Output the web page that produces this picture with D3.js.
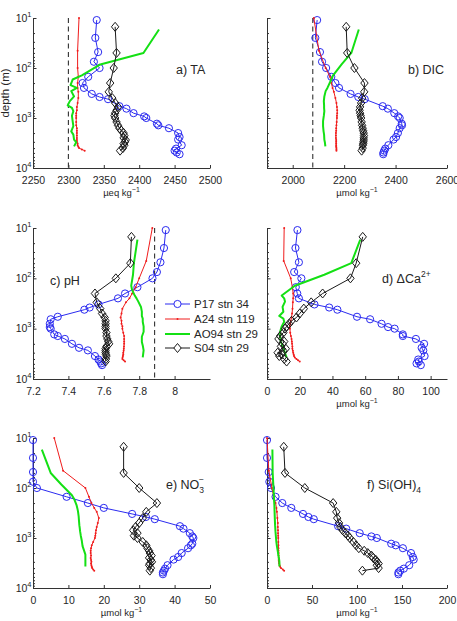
<!DOCTYPE html>
<html><head><meta charset="utf-8">
<script src="https://cdn.jsdelivr.net/npm/d3@7"></script>
<style>
body{margin:0;background:#fff}
svg{display:block}
text{font-family:"Liberation Sans",Arial,Helvetica,sans-serif;fill:#262626}
</style>
</head><body>
<svg id="c" width="457" height="621"></svg>
<script>
// ---------------- DATA ----------------
const depthP17 = [11,25,48,75,100,150,200,250,330,380,420,580,650,800,930,1000,1300,1400,1600,2000,2400,2700,3500,4100,4500,4900,5300];
const p17_TA  = [2340,2338,2342,2336,2344,2328,2320,2322,2333,2344,2356,2372,2382,2392,2407,2410,2425,2427,2442,2455,2457,2455,2460,2452,2450,2453,2457];
const p17_DIC = [2095,2088,2106,2114,2130,2150,2166,2180,2225,2255,2280,2350,2370,2395,2410,2416,2424,2425,2416,2409,2402,2392,2372,2360,2356,2353,2352];
const p17_pH  = [7.95,7.94,7.92,7.90,7.875,7.79,7.72,7.68,7.57,7.52,7.49,7.34,7.30,7.295,7.295,7.30,7.32,7.34,7.38,7.42,7.46,7.51,7.55,7.57,7.58,7.585,7.59];
const p17_dCa = [18.6,17.4,19.5,16.6,21,17.6,18.5,19.5,29,38,43,55,63,70,74,78,83,83,91,96,94.5,95.5,96.3,92.4,92.8,91.4,94];
const p17_NO3 = [0,0,0,0,1.1,9.5,15.5,20,28,31.9,34.4,41.5,42.5,44.3,45,45.3,45,44.6,43.8,42,41,39.7,38,37.3,37,36.7,36.7];
const p17_Si  = [0,0,1.9,2.6,4.5,9.5,17,27,40,46,52,79,88,103,116,122,138,143,151,160,162,163,158,152,148,146,146];

const depthA24 = [10,45,100,150,200,250,300,400,500,600,700,800,900,1000,1200,1400,1600,1800,2000,2250,2500,2750,3000,3250,3500,3750,4000,4250,4500];
const a24_TA  = [2315,2313,2313,2314,2313,2313,2314,2314,2313,2312,2312,2311,2311,2311,2311,2311,2312,2312,2312,2312,2312,2312,2312,2313,2313,2314,2315,2319,2323];
const a24_DIC = [2082,2102,2128,2145,2150,2155,2160,2166,2170,2172,2173,2173,2172,2172,2171,2170,2169,2169,2168,2168,2168,2169,2169,2169,2169,2169,2170,2170,2170];
const a24_pH  = [7.874,7.84,7.80,7.78,7.76,7.745,7.725,7.705,7.70,7.695,7.70,7.70,7.705,7.705,7.71,7.715,7.715,7.715,7.715,7.714,7.713,7.712,7.71,7.71,7.708,7.706,7.705,7.712,7.72];
const a24_dCa = [10.5,10.2,14.5,15.5,16,16,15.8,15.6,15.3,15,14.5,14.2,14,14,14.2,14.6,15,15.2,15.3,15.5,15.5,15.8,16,16.3,16.5,17,18,19,20];
const a24_NO3 = [6,8.5,14.8,15.8,16.5,17.3,18,18.6,18.3,18,17.8,17.7,17.6,17.5,17,16.6,16.4,16.3,16.3,16.4,16.3,16.4,16.5,16.4,16.5,16.6,16.7,17,17.3];
const a24_Si  = [0,2,5.5,7.5,9.5,10.5,11,11.5,12,12,12.2,12.3,12.4,12.5,12.6,12.7,12.8,12.8,12.9,12.9,13,13,13.2,13.5,14,14.5,15.5,17.5,19];

const depthAO94 = [17,50,85,140,170,220,250,290,370,460,560,630,730,900,1150,1450,1850,2150,2700,3050,3700];
const ao_TA  = [2428,2406,2345,2319,2306,2303,2312,2304,2308,2302,2299,2305,2307,2305,2306,2307,2304,2307,2308,2311,2308];
const ao_DIC = [2257,2228,2190,2157,2150,2140,2135,2128,2123,2121,2122,2122,2123,2121,2118,2118,2120,2122,2123,2125,2127];
const ao_pH  = [7.79,7.77,7.765,7.755,7.76,7.775,7.785,7.795,7.81,7.815,7.815,7.82,7.82,7.825,7.825,7.815,7.815,7.82,7.825,7.823,7.82];
const ao_dCa = [57,51.5,35,17,13.5,9,10.5,11,9.5,10,7.5,10,10.5,9,8,8,8.5,9.5,10.5,11,12];
const ao_NO3 = [2.5,5,8,11,11.7,12.3,12.5,12.7,12.9,13,13.1,13.2,13.3,13.5,13.8,14,14.5,14.8,14.8,14.8,14.8];
const ao_Si  = [6,6.3,7,7.6,7.8,8.2,8.3,8.4,8.6,8.8,9,9.2,9.4,9.8,10.3,11,12,12.5,13.5,13.8,13.8];

const depthS04 = [15,50,100,200,300,400,500,600,700,800,900,1000,1200,1400,1600,1800,2000,2250,2500,2750,3000,3250,3500,4000,4500];
const s04_TA  = [2366,2368,2364,2359,2357,2362,2366,2370,2368,2366,2365,2366,2368,2370,2372,2375,2378,2379,2378,2381,2380,2378,2379,2377,2373];
const s04_DIC = [2208,2212,2240,2279,2278,2270,2266,2262,2260,2262,2264,2266,2268,2270,2272,2274,2276,2277,2276,2276,2275,2274,2273,2272,2268];
const s04_pH  = [7.756,7.75,7.668,7.55,7.56,7.58,7.59,7.605,7.61,7.61,7.61,7.61,7.615,7.615,7.62,7.625,7.63,7.615,7.61,7.61,7.61,7.612,7.615,7.612,7.61];
const s04_dCa = [58.5,54.5,51,34,27,22.5,20,18,15,13.5,12,11,10,8,7,10.5,9.5,8.5,11.5,10,6.5,9,7.5,10.5,12];
const s04_NO3 = [25.6,25.6,30,35,32,31,30,29,28.3,29.5,28.5,29.5,31,32,32.3,32.8,33,33.5,32.8,33.3,33.6,33,32.8,33.3,33];
const s04_Si  = [18.6,20,42,73.5,77,78,80,81.5,84,87,90,92,96,99,102,108,112,116,118,121,122,124,122,124,106];

const seriesNames = ["P17 stn 34","A24 stn 119","AO94 stn 29","S04 stn 29"];
const xTicksTA  = [2250,2300,2350,2400,2450,2500];
const xTicksDIC = [2000,2200,2400,2600];
const xTicksPH  = [7.2,7.4,7.6,7.8,8];
const xTicksCa  = [0,20,40,60,80,100];
const xTicksNO3 = [0,10,20,30,40,50];
const xTicksSi  = [0,50,100,150,200];
const refTA = 2300, refDIC = 2078, refPH = 7.887;

// ---------------- LAYOUT / STYLE ----------------
const svg = d3.select("#c");
const rows = [[18,168],[228,379],[438,588]];
const cols = [[33,210],[267,447]];
const FONT = '"Liberation Sans",Arial,Helvetica,sans-serif';
const styles = [
  {depth:depthP17, color:"#2b2bf0", width:1, marker:"circle"},
  {depth:depthA24, color:"#f01c1c", width:1, marker:"dot"},
  {depth:depthAO94, color:"#14e014", width:2, marker:null},
  {depth:depthS04, color:"#1a1a1a", width:1, marker:"diamond"}
];
const diamondPath = "M0,-4.5L3.7,0L0,4.5L-3.7,0Z";

const panels = [
  {r:0,c:0,dom:[2250,2500],ticks:xTicksTA,data:[p17_TA,a24_TA,ao_TA,s04_TA],dash:refTA,ylab:true,title:["µeq kg","−1"]},
  {r:0,c:1,dom:[1900,2600],ticks:xTicksDIC,data:[p17_DIC,a24_DIC,ao_DIC,s04_DIC],dash:refDIC,ylab:false,title:["µmol kg","−1"]},
  {r:1,c:0,dom:[7.2,8.2],ticks:xTicksPH,data:[p17_pH,a24_pH,ao_pH,s04_pH],dash:refPH,ylab:true,title:null},
  {r:1,c:1,dom:[0,110],ticks:xTicksCa,data:[p17_dCa,a24_dCa,ao_dCa,s04_dCa],dash:null,ylab:false,title:["µmol kg","−1"]},
  {r:2,c:0,dom:[0,50],ticks:xTicksNO3,data:[p17_NO3,a24_NO3,ao_NO3,s04_NO3],dash:null,ylab:true,title:["µmol kg","−1"]},
  {r:2,c:1,dom:[0,200],ticks:xTicksSi,data:[p17_Si,a24_Si,ao_Si,s04_Si],dash:null,ylab:false,title:["µmol kg","−1"]}
];

const majorY = [10,100,1000,10000];
const minorY = [];
[10,100,1000].forEach(b=>{for(let k=2;k<=9;k++) minorY.push(b*k);});

panels.forEach(p=>{
  const x = d3.scaleLinear().domain(p.dom).range(cols[p.c]);
  const y = d3.scaleLog().domain([10,10000]).range(rows[p.r]);
  const g = svg.append("g");
  const yb = rows[p.r][1], x0 = cols[p.c][0];

  // x axis
  const xa = g.append("g").attr("transform",`translate(0,${yb})`)
    .call(d3.axisBottom(x).tickValues(p.ticks).tickSizeInner(-3).tickSizeOuter(0).tickPadding(8.5).tickFormat(d3.format("")));
  xa.attr("font-family",FONT).attr("font-size",10.5).attr("color","#333");
  xa.selectAll("text").style("fill","#262626");

  // y axis major
  const ya = g.append("g").attr("transform",`translate(${x0},0)`)
    .call(d3.axisLeft(y).tickValues(majorY).tickSizeInner(-3.5).tickSizeOuter(0).tickPadding(2).tickFormat(""));
  ya.attr("color","#333");
  const ym = g.append("g").attr("transform",`translate(${x0},0)`)
    .call(d3.axisLeft(y).tickValues(minorY).tickSizeInner(-2).tickSizeOuter(0).tickFormat(""));
  ym.attr("color","#333");
  ym.select(".domain").remove();
  if(p.ylab){
    majorY.forEach(v=>{
      const t = g.append("text").attr("x",x0-1.5).attr("y",y(v)+3.8)
        .attr("text-anchor","end").attr("font-size",10.5);
      t.append("tspan").text("10");
      t.append("tspan").attr("font-size",7.5).attr("dy",-5).text(String(Math.round(Math.log10(v))));
    });
  }
  // x title
  if(p.title){
    const t = g.append("text").attr("x",(cols[p.c][0]+cols[p.c][1])/2).attr("y",yb+28)
      .attr("text-anchor","middle").attr("font-size",9.5);
    t.append("tspan").text(p.title[0]);
    t.append("tspan").attr("font-size",7).attr("dy",-4).text(p.title[1]);
  }
  // dashed reference
  if(p.dash!=null){
    g.append("line").attr("x1",x(p.dash)).attr("x2",x(p.dash))
      .attr("y1",y(10)).attr("y2",y(10000))
      .attr("stroke","#333").attr("stroke-width",1.1).attr("stroke-dasharray","5,3.5");
  }
  // series
  styles.forEach((s,i)=>{
    const vals = p.data[i];
    const pts = s.depth.map((d,j)=>[x(vals[j]),y(d)]);
    g.append("path").attr("d",d3.line()(pts)).attr("fill","none")
      .attr("stroke",s.color).attr("stroke-width",s.width).attr("stroke-linejoin","round");
    if(s.marker==="circle"){
      g.selectAll(null).data(pts).enter().append("circle")
        .attr("cx",d=>d[0]).attr("cy",d=>d[1]).attr("r",3.6)
        .attr("fill","none").attr("stroke",s.color).attr("stroke-width",1);
    } else if(s.marker==="dot"){
      g.selectAll(null).data(pts).enter().append("circle")
        .attr("cx",d=>d[0]).attr("cy",d=>d[1]).attr("r",1)
        .attr("fill",s.color);
    } else if(s.marker==="diamond"){
      g.selectAll(null).data(pts).enter().append("path")
        .attr("d",diamondPath).attr("transform",d=>`translate(${d[0]},${d[1]})`)
        .attr("fill","none").attr("stroke",s.color).attr("stroke-width",1);
    }
  });
});

// y title
svg.append("text").attr("transform","translate(9,93) rotate(-90)")
  .attr("text-anchor","middle").attr("font-size",11.5).text("depth (m)");

// panel labels
function lab(x,y,parts){
  const t = svg.append("text").attr("x",x).attr("y",y).attr("font-size",12.5);
  parts.forEach(pt=>{
    const s = t.append("tspan").text(pt.t);
    if(pt.fs) s.attr("font-size",pt.fs);
    if(pt.dy) s.attr("dy",pt.dy);
    if(pt.dx) s.attr("dx",pt.dx);
  });
}
lab(176,74,[{t:"a) TA"}]);
lab(408,74,[{t:"b) DIC"}]);
lab(50,285,[{t:"c) pH"}]);
lab(382,283,[{t:"d) ΔCa"},{t:"2+",fs:8.5,dy:-6}]);
lab(166,489,[{t:"e) NO"},{t:"3",fs:8.5,dy:4},{t:"−",fs:8.5,dy:-11,dx:-5}]);
lab(367,489,[{t:"f) Si(OH)"},{t:"4",fs:8.5,dy:4}]);

// legend
const legY = [304,319,334,348];
styles.forEach((s,i)=>{
  const gy = legY[i];
  svg.append("line").attr("x1",165).attr("x2",190).attr("y1",gy).attr("y2",gy)
    .attr("stroke",s.color).attr("stroke-width",s.width);
  if(s.marker==="circle") svg.append("circle").attr("cx",177.5).attr("cy",gy).attr("r",3.6).attr("fill","#fff").attr("stroke",s.color);
  if(s.marker==="dot") svg.append("circle").attr("cx",177.5).attr("cy",gy).attr("r",1).attr("fill",s.color);
  if(s.marker==="diamond") svg.append("path").attr("d",diamondPath).attr("transform",`translate(177.5,${gy})`).attr("fill","#fff").attr("stroke",s.color);
  svg.append("text").attr("x",194).attr("y",gy+4.2).attr("font-size",11.5).text(seriesNames[i]);
});
</script>
</body></html>
